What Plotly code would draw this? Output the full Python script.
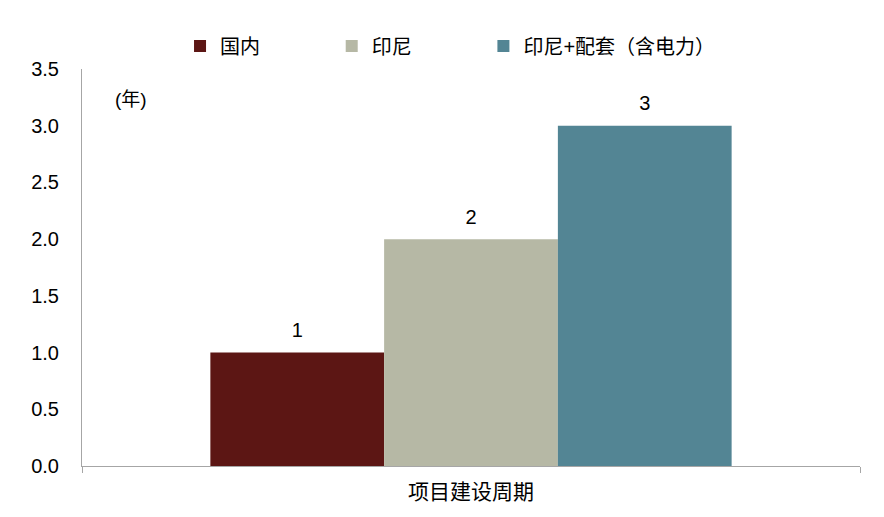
import plotly.graph_objects as go

# 数据
category = ["项目建设周期"]
series_names = ["国内", "印尼", "印尼+配套（含电力）"]
series_values = [1, 2, 3]
series_colors = ["#5C1614", "#B6B8A5", "#538594"]
y_ticks = [0, 0.5, 1.0, 1.5, 2.0, 2.5, 3.0, 3.5]

font_family = "Liberation Sans, Noto Sans CJK SC, sans-serif"
pads = ["\u00a0" * 12, "\u00a0" * 12, ""]   # 图例间距

fig = go.Figure()
for name, val, col, pad in zip(series_names, series_values, series_colors, pads):
    # 小号空行把数值标签往上推一点
    fig.add_trace(go.Bar(x=category, y=[val], name=name + pad, marker_color=col,
                         marker_line_width=0,
                         text=[f"<span style='font-size:20px'>{val}</span><br> "],
                         textposition="outside",
                         textfont=dict(size=8, color="#000000"),
                         cliponaxis=False))

fig.update_layout(
    width=884, height=517,
    margin=dict(l=74, r=32, t=61, b=59, autoexpand=False),
    paper_bgcolor="white", plot_bgcolor="white",
    font=dict(family=font_family, size=18, color="#000000"),
    barmode="group", bargap=0.33, bargroupgap=0,
    showlegend=True,
    legend=dict(orientation="h", x=0.126, xanchor="left", y=1.058, yanchor="middle",
                font=dict(size=20), itemwidth=30, traceorder="normal"),
    xaxis=dict(showline=True, linecolor="#A6A6A6", linewidth=1,
               ticks="outside", tickcolor="#A6A6A6", ticklen=6,
               tickson="boundaries", showgrid=False, automargin=False,
               ticklabelstandoff=7, tickfont=dict(size=21)),
    yaxis=dict(range=[0, 3.5], tickvals=y_ticks, tickformat=".1f",
               showline=True, linecolor="#A6A6A6", linewidth=1,
               showgrid=False, zeroline=False, ticks="", ticklen=0,
               automargin=False, ticklabelstandoff=18, tickfont=dict(size=20)),
)

fig.add_annotation(text="(年)", xref="paper", yref="paper", x=0.04, y=0.922,
                   showarrow=False, xanchor="left", yanchor="middle", font=dict(size=19))

fig.write_html("out.html")
